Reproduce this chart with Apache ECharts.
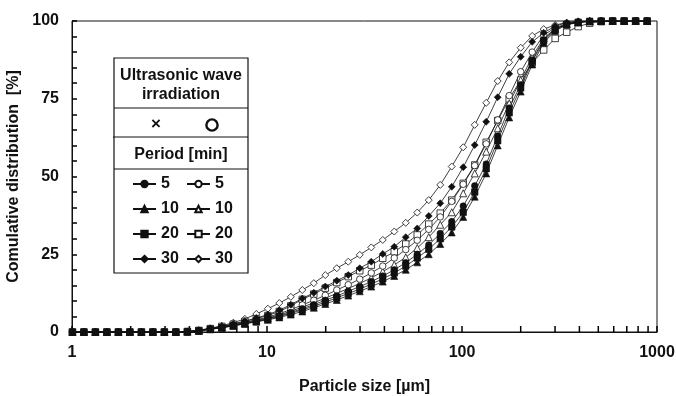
<!DOCTYPE html>
<html>
<head>
<meta charset="utf-8">
<script src="https://cdn.jsdelivr.net/npm/echarts@6/dist/echarts.min.js"></script>
<style>
  html, body { margin: 0; padding: 0; background: #fff; }
  #chart { width: 676px; height: 396px; }
</style>
</head>
<body>
<div id="chart"></div>
<script>
// particle size channels [µm]
const SIZES = [
  1.005, 1.151, 1.318, 1.510, 1.729, 1.981, 2.269, 2.599, 2.976, 3.409,
  3.905, 4.472, 5.122, 5.867, 6.720, 7.697, 8.816, 10.097, 11.565, 13.246,
  15.172, 17.377, 19.904, 22.797, 26.111, 29.907, 34.255, 39.234, 44.938, 51.471,
  58.953, 67.523, 77.339, 88.583, 101.46, 116.21, 133.103, 152.453, 174.616, 200.0,
  229.075, 262.376, 300.518, 344.206, 394.244, 451.556, 517.2, 592.387, 678.504, 777.141, 890.116
];

// without ultrasonic irradiation (filled markers)
const NO_US_5 = [
  0, 0, 0, 0, 0, 0, 0, 0, 0, 0,
  0.1, 0.4, 0.9, 1.45, 2.1, 2.8, 3.5, 4.3, 5.2, 6.3,
  7.5, 8.8, 10.2, 11.6, 13.1, 14.6, 16.2, 18.0, 20.0, 22.3,
  25.0, 28.0, 31.7, 35.5, 40.5, 47.0, 54.0, 63.0, 72.0, 79.5,
  87.5, 94.0, 97.4, 99.0, 99.6, 99.9, 100, 100, 100, 100, 100
];
const NO_US_10 = [
  0, 0, 0, 0, 0, 0, 0, 0, 0, 0,
  0.1, 0.35, 0.85, 1.35, 1.95, 2.6, 3.3, 3.9, 4.7, 5.6,
  6.6, 7.8, 9.0, 10.3, 11.7, 13.1, 14.6, 16.2, 18.0, 20.0,
  22.4, 25.0, 28.3, 32.0, 37.0, 43.5, 51.0, 60.0, 69.0, 77.3,
  86.0, 93.0, 96.8, 98.8, 99.5, 99.9, 100, 100, 100, 100, 100
];
const NO_US_20 = [
  0, 0, 0, 0, 0, 0, 0, 0, 0, 0,
  0.1, 0.4, 0.9, 1.4, 2.0, 2.7, 3.4, 4.1, 5.0, 6.0,
  7.1, 8.3, 9.6, 11.0, 12.4, 13.8, 15.4, 17.1, 19.0, 21.2,
  23.8, 26.6, 30.0, 33.8, 38.5, 45.0, 52.5, 61.5, 70.5, 78.5,
  87.0, 93.6, 97.2, 98.9, 99.6, 99.9, 100, 100, 100, 100, 100
];
const NO_US_30 = [
  0, 0, 0, 0, 0, 0, 0, 0, 0, 0,
  0.15, 0.5, 1.1, 1.8, 2.6, 3.5, 4.5, 5.6, 7.0, 8.8,
  10.8, 12.6, 14.6, 16.5, 18.3, 20.5, 22.6, 25.1, 27.4, 30.5,
  33.3, 37.3, 41.4, 46.7, 53.0, 60.1, 67.6, 75.5, 83.0, 88.5,
  93.3, 96.2, 98.4, 99.4, 99.8, 100, 100, 100, 100, 100, 100
];

// with ultrasonic irradiation (open markers)
const US_5 = [
  0, 0, 0, 0, 0, 0, 0, 0, 0, 0,
  0.1, 0.45, 1.0, 1.6, 2.3, 3.1, 3.9, 4.8, 5.9, 7.2,
  8.7, 10.2, 11.8, 13.5, 15.2, 17.0, 19.0, 21.2, 23.8, 26.5,
  29.5, 33.0, 37.0, 42.0, 47.5, 53.5, 60.5, 68.2, 76.0, 83.7,
  90.0, 95.5, 97.8, 99.1, 99.7, 99.9, 100, 100, 100, 100, 100
];
const US_10 = [
  0, 0, 0, 0, 0, 0, 0, 0, 0, 0,
  0.1, 0.4, 0.95, 1.5, 2.2, 2.9, 3.7, 4.5, 5.5, 6.7,
  8.0, 9.4, 10.9, 12.4, 14.0, 15.6, 17.4, 19.4, 21.6, 24.0,
  27.0, 30.5, 34.5, 38.5, 44.6, 51.0, 58.0, 65.5, 73.5, 81.0,
  88.5, 94.5, 97.5, 99.0, 99.6, 99.9, 100, 100, 100, 100, 100
];
const US_20 = [
  0, 0, 0, 0, 0, 0, 0, 0, 0, 0,
  0.15, 0.5, 1.1, 1.8, 2.5, 3.4, 4.3, 5.3, 6.6, 8.4,
  10.5, 12.2, 14.1, 15.9, 17.8, 19.7, 21.5, 23.7, 25.8, 28.3,
  31.2, 34.7, 38.2, 42.4, 47.8, 53.7, 61.0, 68.0, 75.0, 81.0,
  86.5, 90.7, 94.4, 96.4, 98.2, 99.3, 99.8, 100, 100, 100, 100
];
const US_30 = [
  0, 0, 0, 0, 0, 0, 0, 0, 0, 0,
  0.2, 0.6, 1.2, 2.0, 3.0, 4.2, 5.8, 7.5, 9.3, 11.3,
  13.5, 15.7, 18.3, 20.5, 22.6, 24.8, 27.2, 29.6, 32.3, 35.1,
  38.4, 42.4, 47.3, 53.2, 59.4, 66.6, 73.7, 80.7, 86.7, 91.4,
  95.2, 97.4, 98.7, 99.5, 99.9, 100, 100, 100, 100, 100, 100
];

// tick marks along the log axis (1-2-...-9 per decade)
const X_TICKS = [1, 2, 3, 4, 5, 6, 7, 8, 9, 10, 20, 30, 40, 50, 60, 70, 80, 90,
  100, 200, 300, 400, 500, 600, 700, 800, 900, 1000];
const Y_TICKS_INTERVAL = 25;

const FONT = "'Liberation Sans', Arial, sans-serif";
const INK = '#111';

function makeSeries(name, values, symbol, size, filled) {
  return {
    name: name,
    type: 'line',
    data: values.map((v, i) => [SIZES[i], v]),
    symbol: symbol,
    symbolSize: size,
    showAllSymbol: true,
    lineStyle: { color: INK, width: 0.8 },
    itemStyle: filled
      ? { color: INK, borderColor: INK, borderWidth: 0.6 }
      : { color: '#fff', borderColor: INK, borderWidth: 0.8 },
    emphasis: { disabled: true },
    z: filled ? 4 : 3
  };
}

const chart = echarts.init(document.getElementById('chart'), null, { renderer: 'canvas' });

const legendText = { fontFamily: FONT, fontWeight: 'bold', fontSize: 16, color: INK, lineHeight: 16 };
const legendBase = {
  orient: 'vertical',
  top: 176,
  padding: 0,
  itemWidth: 23,
  itemHeight: 8,
  itemGap: 9,
  selectedMode: false,
  z: 6,
  textStyle: legendText,
  formatter: (n) => n.split('-')[1]
};

chart.setOption({
  animation: false,
  grid: {
    left: 72, right: 19, top: 21, bottom: 64,
    outerBoundsMode: 'none',
    show: true, borderColor: INK, borderWidth: 1
  },
  xAxis: {
    type: 'log',
    logBase: 10,
    min: 1,
    max: 1000,
    name: 'Particle size [µm]',
    nameLocation: 'middle',
    nameGap: 47,
    nameTextStyle: { fontFamily: FONT, fontWeight: 'bold', fontSize: 16, color: INK },
    axisLine: { lineStyle: { color: INK, width: 1 } },
    axisTick: { show: false },
    axisLabel: {
      fontFamily: FONT, fontWeight: 'bold', fontSize: 16, color: INK, margin: 13,
      formatter: (v) => String(v)
    },
    splitLine: { show: false }
  },
  yAxis: {
    type: 'value',
    min: 0,
    max: 100,
    interval: Y_TICKS_INTERVAL,
    name: 'Comulative distribution  [%]',
    nameLocation: 'middle',
    nameGap: 38,
    nameTextStyle: { fontFamily: FONT, fontWeight: 'bold', fontSize: 16, color: INK },
    axisLine: { show: true, lineStyle: { color: INK, width: 1 } },
    axisTick: { show: true, inside: true, length: 5, lineStyle: { color: '#000', width: 1.5 } },
    minorTick: { show: true, splitNumber: 5, length: 5, lineStyle: { color: '#000', width: 1.5 } },
    axisLabel: { fontFamily: FONT, fontWeight: 'bold', fontSize: 16, color: INK, margin: 13 },
    splitLine: { show: false }
  },
  legend: [
    Object.assign({ left: 132, data: ['X-5', 'X-10', 'X-20', 'X-30'] }, legendBase),
    Object.assign({ left: 186, data: ['O-5', 'O-10', 'O-20', 'O-30'] }, legendBase)
  ],
  graphic: [
    { type: 'rect', z: 5, shape: { x: 114, y: 58, width: 134, height: 215 },
      style: { fill: '#fff', stroke: INK, lineWidth: 1.2 } },
    { type: 'line', z: 5, shape: { x1: 114, y1: 108, x2: 248, y2: 108 }, style: { stroke: INK, lineWidth: 1.2 } },
    { type: 'line', z: 5, shape: { x1: 113, y1: 137, x2: 248, y2: 137 }, style: { stroke: INK, lineWidth: 1.2 } },
    { type: 'line', z: 5, shape: { x1: 114, y1: 169, x2: 248, y2: 169 }, style: { stroke: INK, lineWidth: 1.2 } },
    { type: 'text', z: 6, x: 181, y: 76, style: { text: 'Ultrasonic wave', font: "bold 16px " + FONT, fill: INK, align: 'center', verticalAlign: 'middle' } },
    { type: 'text', z: 6, x: 181, y: 95, style: { text: 'irradiation', font: "bold 16px " + FONT, fill: INK, align: 'center', verticalAlign: 'middle' } },
    { type: 'text', z: 6, x: 156, y: 124, style: { text: '×', font: "bold 17px " + FONT, fill: INK, align: 'center', verticalAlign: 'middle' } },
    { type: 'circle', z: 6, shape: { cx: 212, cy: 125, r: 5.6 }, style: { fill: 'none', stroke: INK, lineWidth: 2.4 } },
    { type: 'text', z: 6, x: 181, y: 155, style: { text: 'Period [min]', font: "bold 16px " + FONT, fill: INK, align: 'center', verticalAlign: 'middle' } }
  ],
  series: [
    {
      // inward tick marks at 1..9 of each decade, placed through the log axis
      name: 'x-ticks',
      type: 'custom',
      silent: true,
      z: 2,
      data: X_TICKS.map((t) => [t, 0]),
      renderItem: (params, api) => {
        const p = api.coord([api.value(0), api.value(1)]);
        return {
          type: 'line',
          shape: { x1: p[0], y1: p[1], x2: p[0], y2: p[1] - 6 },
          style: { stroke: '#000', lineWidth: 1.5 }
        };
      }
    },
    makeSeries('O-30', US_30, 'diamond', 7, false),
    makeSeries('O-20', US_20, 'rect', 6.5, false),
    makeSeries('O-10', US_10, 'triangle', 7, false),
    makeSeries('O-5', US_5, 'circle', 6.5, false),
    makeSeries('X-30', NO_US_30, 'diamond', 7, true),
    makeSeries('X-5', NO_US_5, 'circle', 6.5, true),
    makeSeries('X-10', NO_US_10, 'triangle', 7, true),
    makeSeries('X-20', NO_US_20, 'rect', 6.5, true)
  ]
});
</script>
</body>
</html>
